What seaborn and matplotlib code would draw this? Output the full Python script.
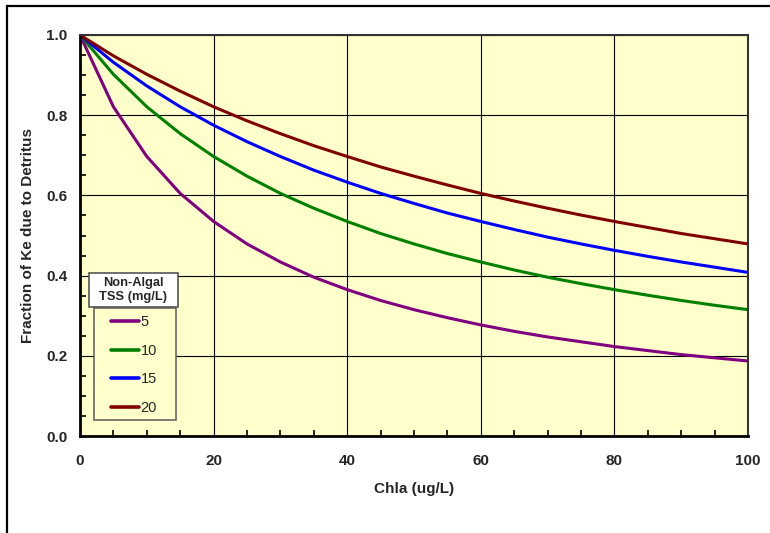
import numpy as np
import pandas as pd
import seaborn as sns
import matplotlib.pyplot as plt
from matplotlib.patches import Rectangle
from matplotlib.ticker import MultipleLocator

# Chla (ug/L)
chla = [0, 5, 10, 15, 20, 25, 30, 35, 40, 45, 50,
        55, 60, 65, 70, 75, 80, 85, 90, 95, 100]

# fraction of Ke due to detritus, one list per non-algal TSS (mg/L)
tss_5 = [1.000, 0.821, 0.697, 0.605, 0.535, 0.479, 0.434, 0.396, 0.365, 0.338, 0.315,
         0.295, 0.277, 0.261, 0.247, 0.235, 0.223, 0.213, 0.203, 0.195, 0.187]
tss_10 = [1.000, 0.902, 0.821, 0.754, 0.697, 0.648, 0.605, 0.568, 0.535, 0.505, 0.479,
          0.455, 0.434, 0.414, 0.396, 0.380, 0.365, 0.351, 0.338, 0.326, 0.315]
tss_15 = [1.000, 0.932, 0.873, 0.821, 0.775, 0.734, 0.697, 0.663, 0.633, 0.605, 0.580,
          0.556, 0.535, 0.515, 0.496, 0.479, 0.463, 0.448, 0.434, 0.421, 0.408]
tss_20 = [1.000, 0.948, 0.902, 0.860, 0.821, 0.786, 0.754, 0.724, 0.697, 0.671, 0.648,
          0.626, 0.605, 0.586, 0.568, 0.551, 0.535, 0.520, 0.505, 0.492, 0.479]

series_names = ['5', '10', '15', '20']
colors = ['#800080', '#008000', '#0000FF', '#800000']

df = pd.DataFrame({
  'chla': chla * 4,
  'frac': tss_5 + tss_10 + tss_15 + tss_20,
  'tss': [n for n in series_names for _ in chla],
})

sns.set_style('white')
plt.rcParams['font.family'] = ['Liberation Sans', 'DejaVu Sans']

fig = plt.figure(figsize=(7.7, 5.33), dpi=100)
ax = fig.add_axes([80 / 770, 1 - 436 / 533, 668 / 770, 401 / 533])
ax.set_facecolor('#FFFFCC')

sns.lineplot(data=df, x='chla', y='frac', hue='tss', palette=colors,
             hue_order=series_names, linewidth=2.2, ax=ax, legend=True)

ax.set_xlim(0, 100)
ax.set_ylim(0, 1)
ax.xaxis.set_major_locator(MultipleLocator(20))
ax.xaxis.set_minor_locator(MultipleLocator(5))
ax.yaxis.set_major_locator(MultipleLocator(0.2))
ax.yaxis.set_minor_locator(MultipleLocator(0.05))
ax.yaxis.set_major_formatter(plt.FuncFormatter(lambda v, p: f'{v:.1f}'))
ax.grid(True, which='major', color='black', linewidth=0.8)
ax.set_axisbelow(True)
ax.tick_params(which='both', direction='in', length=4, width=1.2,
               labelsize=11, color='black')
ax.tick_params(axis='x', which='major', pad=13)
ax.tick_params(axis='y', which='major', pad=9)
ax.tick_params(which='minor', bottom=True, left=True)
for lab in ax.get_xticklabels() + ax.get_yticklabels():
  lab.set_fontweight('bold')

for s in ['left', 'bottom']:
  ax.spines[s].set_color('black')
  ax.spines[s].set_linewidth(2)
for s in ['top', 'right']:
  ax.spines[s].set_color('#333333')
  ax.spines[s].set_linewidth(1.5)

ax.set_xlabel('Chla (ug/L)', fontsize=11, fontweight='bold', labelpad=10)
ax.set_ylabel('Fraction of Ke due to Detritus', fontsize=11,
              fontweight='bold', labelpad=8)

# legend entries, frame drawn separately below
leg = ax.legend(loc='upper left', bbox_to_anchor=(0.046, 0.301),
                frameon=False, fontsize=10.5, handlelength=1.95,
                handletextpad=0.1, labelspacing=1.0, borderpad=0.0,
                borderaxespad=0.0)
leg.set_zorder(11)
for line in leg.get_lines():
  line.set_linewidth(2.6)

ax.add_patch(Rectangle((0.021, 0.040), 0.123, 0.279, transform=ax.transAxes,
                       facecolor='#FFFFCC', edgecolor='#666666',
                       linewidth=1.2, zorder=9))
ax.add_patch(Rectangle((0.0135, 0.321), 0.133, 0.085, transform=ax.transAxes,
                       facecolor='white', edgecolor='#555555',
                       linewidth=1.2, zorder=10))
ax.text(0.080, 0.364, 'Non-Algal\nTSS (mg/L)', transform=ax.transAxes,
        ha='center', va='center', fontsize=9.3, fontweight='bold',
        linespacing=1.15, zorder=11)

# outer frame of the chart area
fig.patches.append(Rectangle((7 / 770, -0.1), 1.2, 1.1 - 6 / 533,
                             transform=fig.transFigure, fill=False,
                             edgecolor='black', linewidth=1.6))

fig.savefig('out.png', dpi=100)
